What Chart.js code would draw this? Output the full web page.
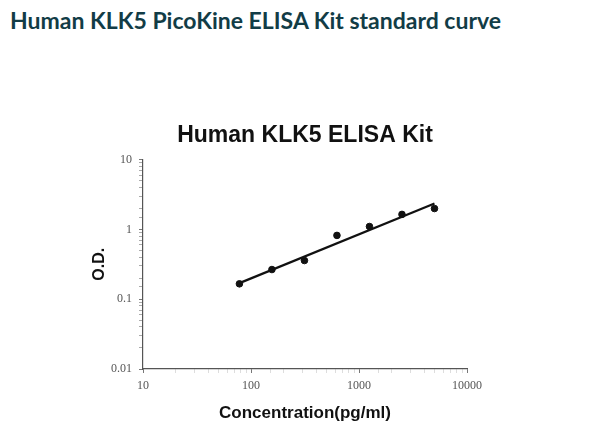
<!DOCTYPE html>
<html>
<head>
<meta charset="utf-8">
<script src="https://cdn.jsdelivr.net/npm/chart.js@4"></script>
<style>
  html, body { margin: 0; padding: 0; background: #ffffff; }
  #wrap { position: relative; width: 600px; height: 444px; overflow: hidden; }
  h1 {
    position: absolute; left: 10px; top: 4px; margin: 0;
    font-family: Lato, "Open Sans", sans-serif; font-weight: 700;
    font-size: 23px; line-height: 32px; color: #123c46; white-space: nowrap;
  }
  canvas { position: absolute; left: 0; top: 0; }
</style>
</head>
<body>
<div id="wrap">
  <h1>Human KLK5 PicoKine ELISA Kit standard curve</h1>
  <canvas id="c" width="600" height="444"></canvas>
</div>
<script>
// Standard concentrations (pg/ml) and measured O.D.
const concentrations = [78.125, 156.25, 312.5, 625, 1250, 2500, 5000];
const odValues = [0.166, 0.266, 0.358, 0.82, 1.10, 1.64, 1.99];
// Fitted curve endpoints
const fitX = [78.125, 5000];
const fitY = [0.17, 2.35];
// Axis tick labels
const xTickLabels = ["10", "100", "1000", "10000"];
const yTickLabels = ["0.01", "0.1", "1", "10"];

const chartTitle = "Human KLK5 ELISA Kit";
const xTitle = "Concentration(pg/ml)";
const yTitle = "O.D.";

function isPow10(v) {
  const l = Math.log10(v);
  return Math.abs(l - Math.round(l)) < 1e-9;
}
function labelFor(v, list) {
  if (!isPow10(v)) return "";
  const s = String(Math.round(Math.log10(v)) >= 0 ? Math.round(v) : Number(v.toPrecision(1)));
  return list.includes(s) ? s : "";
}

const pointsData = concentrations.map((c, i) => ({ x: c, y: odValues[i] }));
const fitData = fitX.map((c, i) => ({ x: c, y: fitY[i] }));

new Chart(document.getElementById("c"), {
  type: "scatter",
  data: {
    datasets: [
      {
        label: "Fit",
        data: fitData,
        showLine: true,
        borderColor: "#111",
        borderWidth: 2.2,
        pointRadius: 0,
        fill: false
      },
      {
        label: "Standards",
        data: pointsData,
        backgroundColor: "#111",
        borderColor: "#111",
        pointRadius: 3.3,
        showLine: false
      }
    ]
  },
  options: {
    responsive: false,
    animation: false,
    events: [],
    layout: { padding: { top: 114, left: 90, right: 133, bottom: 15 } },
    plugins: {
      legend: { display: false },
      tooltip: { enabled: false },
      title: {
        display: true,
        text: chartTitle,
        fullSize: false,
        color: "#111",
        font: { family: "Liberation Sans, Arial, sans-serif", size: 23, weight: "bold", lineHeight: 1.2 },
        padding: { top: 8, bottom: 10 }
      }
    },
    scales: {
      x: {
        type: "logarithmic",
        min: 10,
        max: 10000,
        afterFit: s => { s.height = 60; },
        border: { display: true, color: "#555", width: 1.2 },
        grid: {
          drawOnChartArea: false,
          drawTicks: true,
          tickLength: 4,
          color: ctx => (ctx.tick && isPow10(ctx.tick.value)) ? "#777" : "#ddd"
        },
        ticks: {
          autoSkip: false,
          maxRotation: 0,
          padding: 6,
          color: "#555",
          font: { family: "Liberation Serif, Times New Roman, serif", size: 12 },
          callback: v => labelFor(v, xTickLabels)
        },
        title: {
          display: true,
          text: xTitle,
          color: "#111",
          font: { family: "Liberation Sans, Arial, sans-serif", size: 17, weight: "bold", lineHeight: 1.2 },
          padding: { top: 0, bottom: 5 }
        }
      },
      y: {
        type: "logarithmic",
        min: 0.01,
        max: 10,
        afterFit: s => { s.width = 53; },
        border: { display: true, color: "#555", width: 1.2 },
        grid: {
          drawOnChartArea: false,
          drawTicks: true,
          tickLength: 4,
          color: ctx => (ctx.tick && isPow10(ctx.tick.value)) ? "#777" : "#aaa"
        },
        ticks: {
          autoSkip: false,
          padding: 7,
          color: "#555",
          font: { family: "Liberation Serif, Times New Roman, serif", size: 12 },
          callback: v => labelFor(v, yTickLabels)
        },
        title: {
          display: true,
          text: yTitle,
          color: "#111",
          font: { family: "Liberation Sans, Arial, sans-serif", size: 16, weight: "bold", lineHeight: 1.2 },
          padding: { top: 0, bottom: 0 }
        }
      }
    }
  }
});
</script>
</body>
</html>
